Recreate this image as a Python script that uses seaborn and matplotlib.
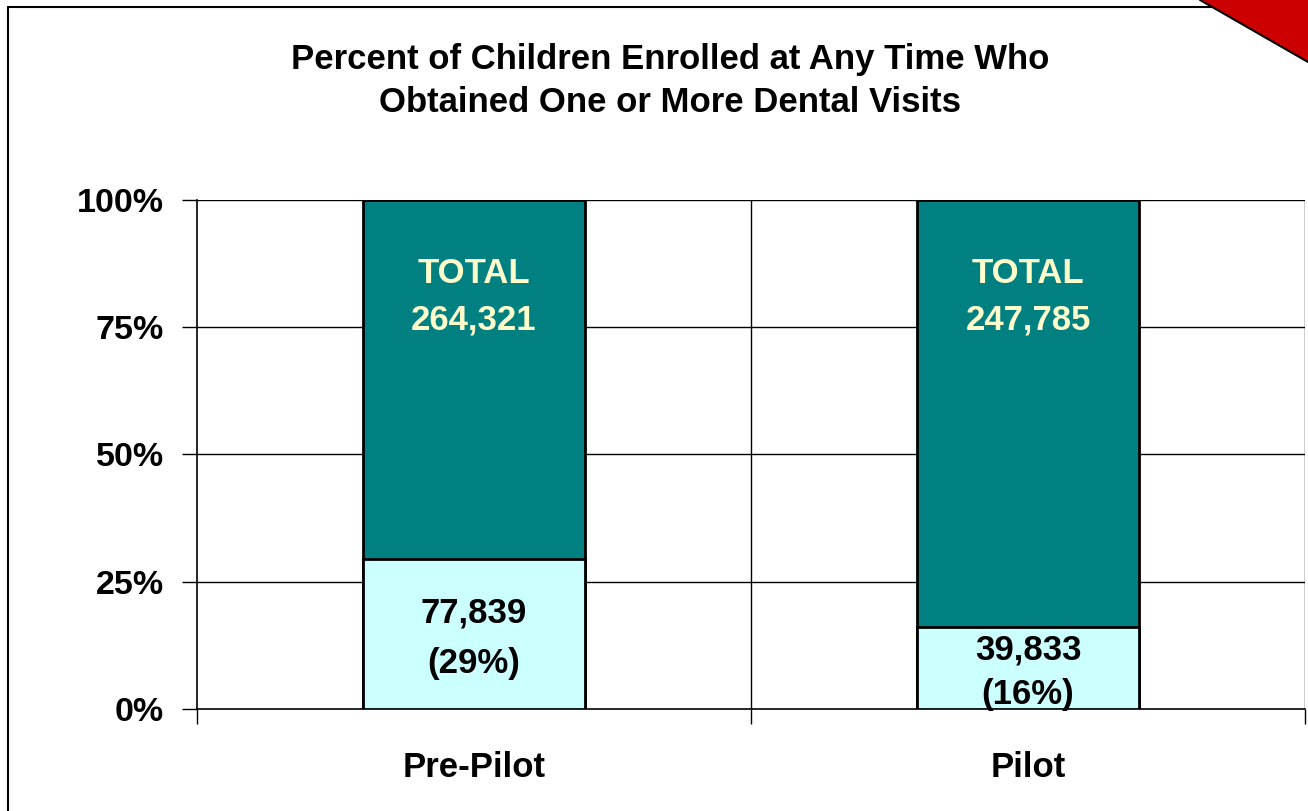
import numpy as np
import pandas as pd
import matplotlib
matplotlib.use('Agg')
import matplotlib.pyplot as plt
from matplotlib.lines import Line2D
from matplotlib.patches import Polygon
import seaborn as sns

sns.set_style("white")
plt.rcParams['font.family'] = ['Liberation Sans', 'DejaVu Sans']
plt.rcParams['text.color'] = 'black'
plt.rcParams['xtick.color'] = 'black'
plt.rcParams['ytick.color'] = 'black'

# データ
periods = ["Pre-Pilot", "Pilot"]
totals = [264321, 247785]
with_visit = [77839, 39833]
pct_labels = ["(29%)", "(16%)"]

df = pd.DataFrame({"period": periods, "total": totals, "visit": with_visit})
df["total_pct"] = 100.0
df["visit_pct"] = df["visit"] / df["total"] * 100

fig = plt.figure(figsize=(13.08, 8.11), dpi=100)
ax = fig.add_axes([0.1506, 0.1258, 0.8471, 0.6276])

teal = "#008080"
light = "#CCFFFF"
sns.barplot(data=df, x="period", y="total_pct", color=teal, width=0.4,
            edgecolor="black", linewidth=2, saturation=1, ax=ax, zorder=3)
sns.barplot(data=df, x="period", y="visit_pct", color=light, width=0.4,
            edgecolor="black", linewidth=2, saturation=1, ax=ax, zorder=4)

ax.set_xlim(-0.5, 1.5)
ax.set_ylim(0, 100)
ax.set_yticks([0, 25, 50, 75, 100])
ax.set_yticklabels(["0%", "25%", "50%", "75%", "100%"])
ax.set_xlabel("")
ax.set_ylabel("")

# グリッド
for yv in [25, 50, 75, 100]:
    ax.axhline(yv, color="black", lw=1, zorder=1)
for xv in [0.5, 1.5]:
    ax.axvline(xv, color="black", lw=1, zorder=1)
ax.set_xticks([-0.5, 0.5, 1.5], minor=True)
ax.tick_params(axis="x", which="minor", bottom=True, length=11, width=1, color="black", direction="out")
ax.tick_params(axis="x", which="major", bottom=False, length=0, pad=30, labelsize=25)
ax.tick_params(axis="y", length=11, width=1, color="black", direction="out", pad=13, labelsize=24.5, left=True)
for lab in ax.get_xticklabels() + ax.get_yticklabels():
    lab.set_fontweight("bold")

for side in ["top", "right"]:
    ax.spines[side].set_visible(False)
for side in ["left", "bottom"]:
    ax.spines[side].set_color("black")
    ax.spines[side].set_linewidth(1.2)

# ラベル
spacing = [1.68, 1.44]
for i, row in df.iterrows():
    ax.text(i, 81.0, f"TOTAL\n{row['total']:,}", ha="center", va="center",
            color="#FFFFCC", fontsize=25, fontweight="bold", linespacing=1.53, zorder=5)
    ax.text(i, row["visit_pct"] / 2 - 0.8, f"{row['visit']:,}\n{pct_labels[i]}", ha="center", va="center",
            color="black", fontsize=25, fontweight="bold", linespacing=spacing[i], zorder=5)

fig.text(0.5126, 0.9, "Percent of Children Enrolled at Any Time Who\nObtained One or More Dental Visits",
         ha="center", va="center", fontsize=25, fontweight="bold", linespacing=1.36)

# 枠線と三角
W, H = 1308, 811
fig.add_artist(Line2D([8 / W, 8 / W], [0, 1 - 7 / H], color="black", lw=1.5, transform=fig.transFigure))
fig.add_artist(Line2D([8 / W, 1], [1 - 7 / H, 1 - 7 / H], color="black", lw=1.5, transform=fig.transFigure))
fig.add_artist(Polygon([[1200 / W, 1], [1, 1], [1, 1 - 62 / H]], closed=True,
                       facecolor="#CC0000", edgecolor="none", transform=fig.transFigure, zorder=10))
fig.add_artist(Line2D([1200 / W, 1], [1, 1 - 62 / H], color="black", lw=1.5,
                      transform=fig.transFigure, zorder=11))

plt.savefig("out.png", dpi=100)
